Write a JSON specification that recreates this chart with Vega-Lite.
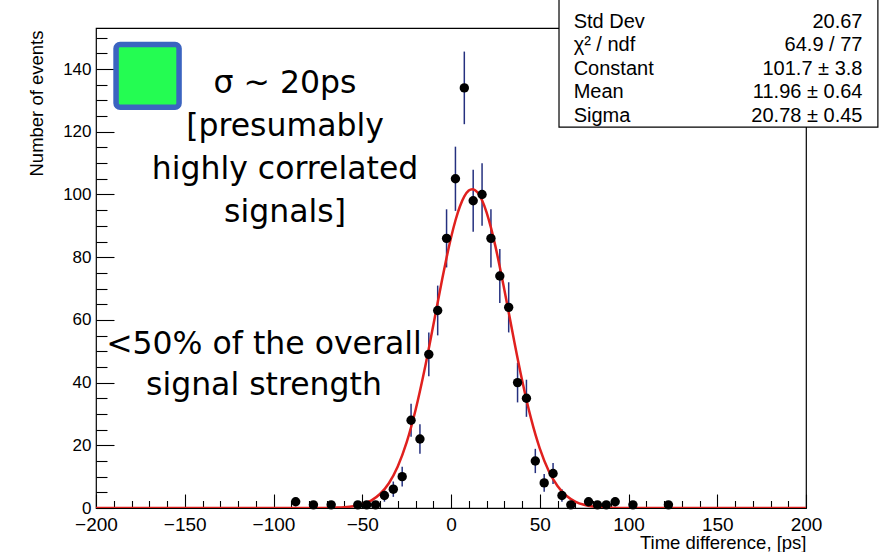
{
  "$schema": "https://vega.github.io/schema/vega-lite/v6.json",
  "width": 710,
  "height": 480,
  "autosize": {"type": "none"},
  "padding": {"left": 96, "top": 28, "right": 83, "bottom": 44},
  "background": "white",
  "config": {
    "view": {"stroke": "#000", "strokeWidth": 1.2},
    "font": "Liberation Sans",
    "axis": {
      "domain": false, "grid": false,
      "labelFont": "Liberation Sans", "titleFont": "Liberation Sans",
      "labelColor": "#000", "titleColor": "#000", "tickColor": "#000",
      "tickWidth": 1.1, "titleFontWeight": "normal",
      "labelOverlap": false, "labelFlush": false
    }
  },
  "datasets": {
    "hist": [
      {"t": -87.5, "n": 2, "err": 1.41},
      {"t": -77.5, "n": 1, "err": 1},
      {"t": -67.5, "n": 1, "err": 1},
      {"t": -52.5, "n": 1, "err": 1},
      {"t": -47.5, "n": 1, "err": 1},
      {"t": -42.5, "n": 1, "err": 1},
      {"t": -37.5, "n": 4, "err": 2},
      {"t": -32.5, "n": 6, "err": 2.45},
      {"t": -27.5, "n": 10, "err": 3.16},
      {"t": -22.5, "n": 28, "err": 5.29},
      {"t": -17.5, "n": 22, "err": 4.69},
      {"t": -12.5, "n": 49, "err": 7},
      {"t": -7.5, "n": 63, "err": 7.94},
      {"t": -2.5, "n": 86, "err": 9.27},
      {"t": 2.5, "n": 105, "err": 10.25},
      {"t": 7.5, "n": 134, "err": 11.58},
      {"t": 12.5, "n": 98, "err": 9.9},
      {"t": 17.5, "n": 100, "err": 10},
      {"t": 22.5, "n": 86, "err": 9.27},
      {"t": 27.5, "n": 74, "err": 8.6},
      {"t": 32.5, "n": 64, "err": 8},
      {"t": 37.5, "n": 40, "err": 6.32},
      {"t": 42.5, "n": 35, "err": 5.92},
      {"t": 47.5, "n": 15, "err": 3.87},
      {"t": 52.5, "n": 8, "err": 2.83},
      {"t": 57.5, "n": 11, "err": 3.32},
      {"t": 62.5, "n": 4, "err": 2},
      {"t": 67.5, "n": 1, "err": 1},
      {"t": 77.5, "n": 2, "err": 1.41},
      {"t": 82.5, "n": 1, "err": 1},
      {"t": 87.5, "n": 1, "err": 1},
      {"t": 92.5, "n": 2, "err": 1.41},
      {"t": 102.5, "n": 1, "err": 1},
      {"t": 122.5, "n": 1, "err": 1}
    ],
    "fit": [
      {"x": -200, "f": 0}, {"x": -100, "f": 0}, {"x": -80, "f": 0.01}, {"x": -70, "f": 0.04},
      {"x": -65, "f": 0.11}, {"x": -60, "f": 0.25}, {"x": -55, "f": 0.57}, {"x": -50, "f": 1.19},
      {"x": -45, "f": 2.37}, {"x": -40, "f": 4.46}, {"x": -35, "f": 7.91}, {"x": -30, "f": 13.24},
      {"x": -25, "f": 20.91}, {"x": -20, "f": 31.17}, {"x": -15, "f": 43.83}, {"x": -10, "f": 58.19},
      {"x": -5, "f": 72.89}, {"x": -2.5, "f": 79.83}, {"x": 0, "f": 86.18}, {"x": 2.5, "f": 91.69},
      {"x": 5, "f": 96.15}, {"x": 7.5, "f": 99.38}, {"x": 10, "f": 101.25}, {"x": 11.96, "f": 101.7},
      {"x": 15, "f": 100.62}, {"x": 17.5, "f": 98.15}, {"x": 20, "f": 94.37}, {"x": 22.5, "f": 89.42},
      {"x": 25, "f": 83.52}, {"x": 30, "f": 69.77}, {"x": 35, "f": 55.0}, {"x": 40, "f": 40.92},
      {"x": 45, "f": 28.73}, {"x": 50, "f": 19.04}, {"x": 55, "f": 11.91}, {"x": 60, "f": 7.03},
      {"x": 65, "f": 3.91}, {"x": 70, "f": 2.06}, {"x": 75, "f": 1.02}, {"x": 80, "f": 0.48},
      {"x": 85, "f": 0.21}, {"x": 90, "f": 0.09}, {"x": 100, "f": 0.01}, {"x": 120, "f": 0},
      {"x": 200, "f": 0}
    ]
  },
  "resolve": {"axis": {"x": "independent", "y": "independent"}},
  "layer": [
    {
      "data": {"name": "hist"},
      "mark": {"type": "errorbar", "color": "#25307f", "thickness": 1.5},
      "encoding": {
        "x": {"field": "t", "type": "quantitative", "scale": {"domain": [-200, 200], "nice": false}, "axis": null},
        "y": {"field": "n", "type": "quantitative", "scale": {"domain": [0, 153.1], "nice": false, "zero": false}, "axis": null},
        "yError": {"field": "err"}
      }
    },
    {
      "data": {"name": "fit"},
      "mark": {"type": "line", "color": "#e0201e", "strokeWidth": 2.5, "interpolate": "monotone", "clip": true},
      "encoding": {
        "x": {"field": "x", "type": "quantitative", "scale": {"domain": [-200, 200], "nice": false},
          "axis": {"orient": "bottom", "values": [-200, -150, -100, -50, 0, 50, 100, 150, 200], "labels": false, "tickSize": -14, "title": null}},
        "y": {"field": "f", "type": "quantitative", "scale": {"domain": [0, 153.1], "nice": false, "zero": false},
          "axis": {"orient": "left", "values": [0, 20, 40, 60, 80, 100, 120, 140], "labels": false, "tickSize": -18, "title": null}}
      }
    },
    {
      "data": {"name": "hist"},
      "mark": {"type": "circle", "size": 88, "color": "#000", "opacity": 1},
      "encoding": {
        "x": {"field": "t", "type": "quantitative", "scale": {"domain": [-200, 200], "nice": false},
          "axis": {"orient": "bottom", "values": [-200, -150, -100, -50, 0, 50, 100, 150, 200], "ticks": false,
            "labelFontSize": 19, "labelPadding": 7, "title": "Time difference, [ps]", "titleFontSize": 18.5,
            "titleAlign": "right", "titleAnchor": "end", "titleX": 710, "titleY": 40, "titleBaseline": "alphabetic"}},
        "y": {"field": "n", "type": "quantitative", "scale": {"domain": [0, 153.1], "nice": false, "zero": false},
          "axis": {"orient": "left", "values": [0, 20, 40, 60, 80, 100, 120, 140], "ticks": false,
            "labelFontSize": 17, "labelPadding": 5, "title": "Number of events", "titleFontSize": 18.5,
            "titleAngle": 270, "titleAlign": "right", "titleBaseline": "alphabetic", "titleX": -54, "titleY": 2}}
      }
    },
    {
      "data": {"values": [{}]},
      "mark": {"type": "rect", "fill": "#24fc52", "stroke": "#3b64c0", "strokeWidth": 5.5, "cornerRadius": 4},
      "encoding": {
        "x": {"datum": -188.7, "type": "quantitative", "scale": {"domain": [-200, 200], "nice": false},
          "axis": {"orient": "bottom", "values": [-190, -180, -170, -160, -140, -130, -120, -110, -90, -80, -70, -60, -40, -30, -20, -10, 10, 20, 30, 40, 60, 70, 80, 90, 110, 120, 130, 140, 160, 170, 180, 190], "labels": false, "tickSize": -7.5, "title": null}},
        "x2": {"datum": -153.2},
        "y": {"datum": 147.8, "type": "quantitative", "scale": {"domain": [0, 153.1], "nice": false, "zero": false},
          "axis": {"orient": "left", "values": [5, 10, 15, 25, 30, 35, 45, 50, 55, 65, 70, 75, 85, 90, 95, 105, 110, 115, 125, 130, 135, 145, 150], "labels": false, "tickSize": -11, "title": null}},
        "y2": {"datum": 127.8}
      }
    },
    {
      "data": {"values": [{}]},
      "mark": {"type": "rect", "fill": "#fff", "stroke": "#000", "strokeWidth": 1.2},
      "encoding": {
        "x": {"datum": 60.85, "type": "quantitative", "axis": null},
        "x2": {"datum": 240.5},
        "y": {"datum": 121.5, "type": "quantitative", "axis": null},
        "y2": {"datum": 175}
      }
    },
    {
      "data": {"values": [{}]},
      "mark": {"type": "text", "text": ["Std Dev", "χ² / ndf", "Constant", "Mean", "Sigma"], "align": "left", "baseline": "alphabetic", "fontSize": 20, "lineHeight": 23.6, "font": "Liberation Sans", "color": "#000"},
      "encoding": {
        "x": {"datum": 69.1, "type": "quantitative", "axis": null},
        "y": {"datum": 153.2, "type": "quantitative", "axis": null}
      }
    },
    {
      "data": {"values": [{}]},
      "mark": {"type": "text", "text": ["20.67", "64.9 / 77", "101.7 ± 3.8", "11.96 ± 0.64", "20.78 ± 0.45"], "align": "right", "baseline": "alphabetic", "fontSize": 20, "lineHeight": 23.6, "font": "Liberation Sans", "color": "#000"},
      "encoding": {
        "x": {"datum": 231.8, "type": "quantitative", "axis": null},
        "y": {"datum": 153.2, "type": "quantitative", "axis": null}
      }
    },
    {
      "data": {"values": [{}]},
      "mark": {"type": "text", "text": ["σ ~ 20ps", "[presumably", "highly correlated", "signals]"], "align": "center", "baseline": "alphabetic", "fontSize": 31.5, "lineHeight": 43, "font": "DejaVu Sans", "color": "#000"},
      "encoding": {
        "x": {"datum": -93.5, "type": "quantitative", "axis": null},
        "y": {"datum": 132.4, "type": "quantitative", "axis": null}
      }
    },
    {
      "data": {"values": [{}]},
      "mark": {"type": "text", "text": ["<50% of the overall", "signal strength"], "align": "center", "baseline": "alphabetic", "fontSize": 31.5, "lineHeight": 41, "font": "DejaVu Sans", "color": "#000"},
      "encoding": {
        "x": {"datum": -105.4, "type": "quantitative", "axis": null},
        "y": {"datum": 49.1, "type": "quantitative", "axis": null}
      }
    }
  ]
}
